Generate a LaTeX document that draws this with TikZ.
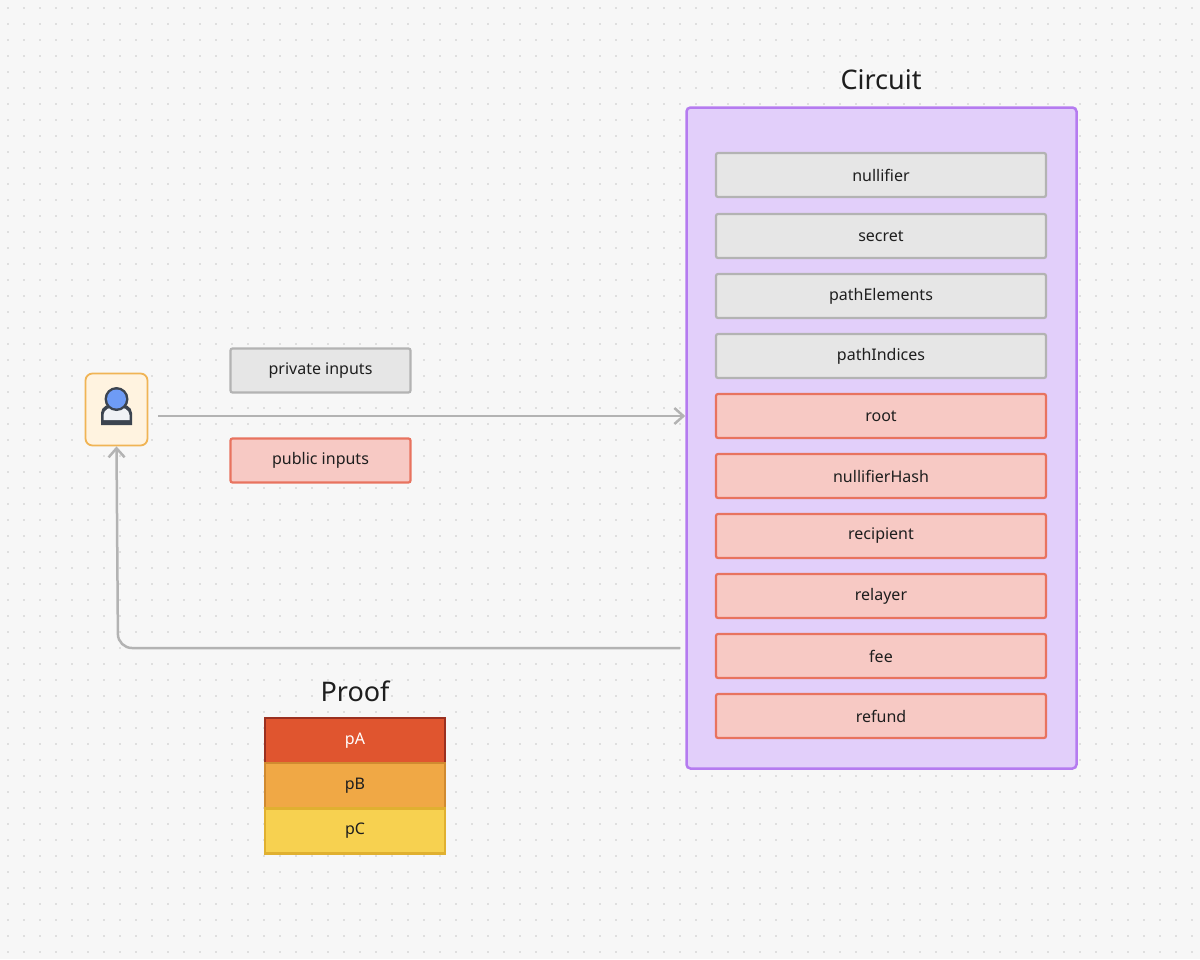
\documentclass[tikz,border=0pt]{standalone}
\usepackage{fontspec}
\setmainfont{Noto Sans}
\usetikzlibrary{arrows.meta}
\definecolor{bg}{HTML}{F7F7F7}
\definecolor{dot}{HTML}{C8C8C8}
\definecolor{gfill}{HTML}{E6E6E6}\definecolor{gline}{HTML}{B3B3B3}
\definecolor{rfill}{HTML}{F7C9C4}\definecolor{rline}{HTML}{E8735F}
\definecolor{cfill}{HTML}{E2CFFA}\definecolor{cline}{HTML}{B57BF0}
\definecolor{txt}{HTML}{1E1E1E}
\definecolor{uline}{RGB}{240,180,85}\definecolor{ufill}{RGB}{255,243,224}
\definecolor{udark}{RGB}{60,68,80}\definecolor{ubody}{RGB}{240,242,246}\definecolor{uhead}{RGB}{110,155,245}
\definecolor{pafill}{RGB}{224,85,47}\definecolor{paline}{RGB}{154,48,32}
\definecolor{pbfill}{RGB}{240,168,69}\definecolor{pbline}{RGB}{208,138,48}
\definecolor{pcfill}{RGB}{247,209,80}\definecolor{pcline}{RGB}{224,176,48}
\tikzset{
 rowbox/.style={draw, line width=2.2pt, rounded corners=2pt, minimum width=330pt, minimum height=44pt, font=\fontsize{16}{18}\selectfont, text=txt},
 grayrow/.style={rowbox, fill=gfill, draw=gline},
 redrow/.style={rowbox, fill=rfill, draw=rline},
 conn/.style={draw=gline, line width=2.5pt, -{Straight Barb[length=9pt,width=16pt,line width=2.5pt]}},
 prf/.style={draw, line width=2.2pt, minimum width=180pt, minimum height=45pt, font=\fontsize{16}{18}\selectfont, text=txt}
}
\begin{document}
\begin{tikzpicture}[x=1pt,y=-1pt]
\fill[bg] (0,0) rectangle (1200,959);
\useasboundingbox (0,0) rectangle (1200,959);
\foreach \i in {0,...,74}{\foreach \j in {0,...,59}{\fill[dot] (8+16*\i,8+16*\j) circle (0.9pt);}}
\node[draw=cline, fill=cfill, line width=2.5pt, rounded corners=4pt, minimum width=390pt, minimum height=661pt] (circ) at (881.5,438) {};
\node[font=\fontsize{27}{30}\selectfont, text=txt] (ct) at (881,80) {Circuit};
\node[grayrow] (n1) at (881,175) {nullifier};
\node[grayrow] (n2) at (881,236) {secret};
\node[grayrow] (n3) at (881,296) {pathElements};
\node[grayrow] (n4) at (881,356) {pathIndices};
\node[redrow] (n5) at (881,416) {root};
\node[redrow] (n6) at (881,476) {nullifierHash};
\node[redrow] (n7) at (881,536) {recipient};
\node[redrow] (n8) at (881,596) {relayer};
\node[redrow] (n9) at (881,656) {fee};
\node[redrow] (n10) at (881,716) {refund};
\node[grayrow, minimum width=180pt] (priv) at (320.5,370.5) {private inputs};
\node[redrow, minimum width=180pt] (pub) at (320.5,460.5) {public inputs};
\node[draw=uline, fill=ufill, line width=1.8pt, rounded corners=7pt, minimum width=62pt, minimum height=72pt] (user) at (116.5,409.5) {};
\fill[udark] (101,413) .. controls (101,400) and (132,400) .. (132,413) -- (132,425) -- (101,425) -- cycle;
\fill[ubody] (103.5,415) .. controls (104,404) and (129,404) .. (129.5,415) -- (129.5,420) -- (103.5,420) -- cycle;
\fill[udark] (116.5,399) circle (12pt);
\fill[uhead] (116.5,399) circle (9.5pt);
\coordinate (ret) at (680,648);
\draw[conn] (158,416) -- (n5.west -| circ.west);
\draw[conn, rounded corners=14pt] (ret) -- (118,648) -- (user.south);
\node[font=\fontsize{27}{30}\selectfont, text=txt] (pt) at (355,691) {Proof};
\node[prf, fill=pafill, draw=paline, text=white] (pa) at (355,740.5) {pA};
\node[prf, fill=pbfill, draw=pbline] (pb) at (355,785.5) {pB};
\node[prf, fill=pcfill, draw=pcline] (pc) at (355,831) {pC};
\end{tikzpicture}
\end{document}
